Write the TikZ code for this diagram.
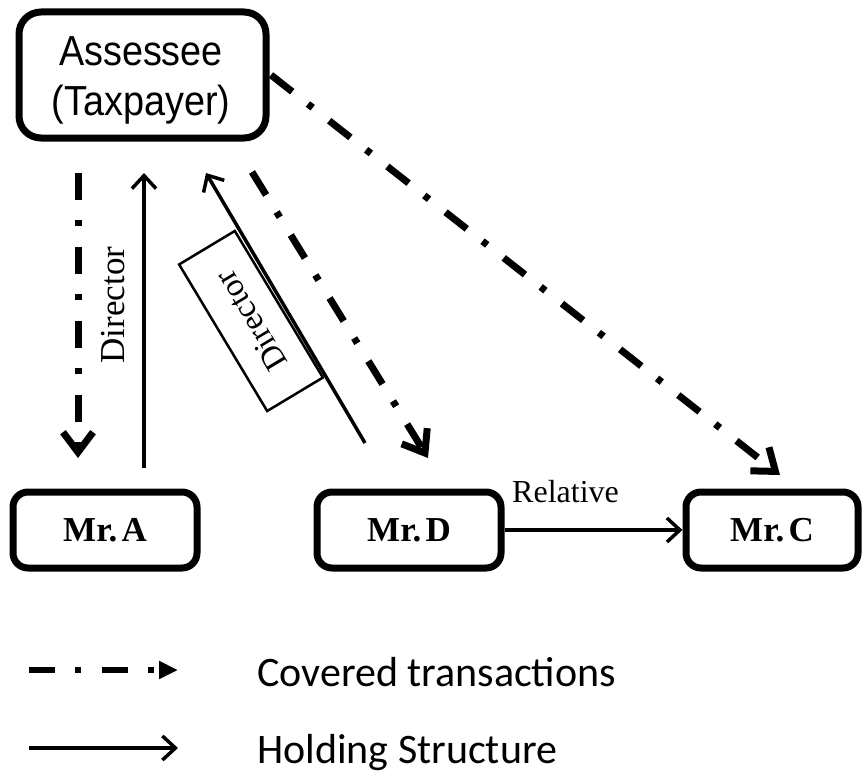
\documentclass[tikz,border=0pt]{standalone}
\usepackage{fontspec}
\setmainfont{Liberation Serif}
\newfontfamily\assfont[FakeStretch=0.9]{Liberation Sans}
\newfontfamily\legfont{Carlito}
\usetikzlibrary{arrows.meta}
\begin{document}
\begin{tikzpicture}[x=1pt,y=-1pt,
  person/.style={draw, line width=7pt, rounded corners=15pt, minimum width=184pt, minimum height=76pt, inner sep=0pt, font=\fontsize{35}{40}\selectfont\bfseries},
  covered/.style={line width=7pt, dash pattern=on 27pt off 20pt on 6pt off 21pt, -{Straight Barb[length=20pt,width=30pt]}},
  holding/.style={line width=3.5pt, -{Straight Barb[length=13pt,width=24pt]}},
  lbl/.style={font=\fontsize{33}{38}\selectfont},
  legtext/.style={font=\legfont\fontsize{42}{48}\selectfont, anchor=base west, inner sep=0pt},
]
\useasboundingbox (0,0) rectangle (867,776);

% boxes
\node[draw, line width=7pt, rounded corners=22pt, minimum width=247pt, minimum height=126pt, inner sep=0pt] (assessee) at (142.5,75) {};
\node[font=\assfont\fontsize{42}{50}\selectfont, align=center, inner sep=0pt] (assesseetext) at (141,80) {Assessee\\(Taxpayer)};
\node[person] (mrA) at (105,530) {Mr.\hspace{0.12em}A};
\node[person] (mrD) at (409,530) {Mr.\hspace{0.12em}D};
\node[person, minimum width=172pt] (mrC) at (772,530) {Mr.\hspace{0.12em}C};

% end points
\coordinate (cAs) at (78,173);
\coordinate (cAe) at (78,458);
\coordinate (hAs) at (144,468);
\coordinate (hAe) at (144,173);
\coordinate (hDs) at (365,443);
\coordinate (hDe) at (206,173);
\coordinate (cDs) at (252,172);
\coordinate (cDe) at (428,458);
\coordinate (cCs) at (271,75);
\coordinate (cCe) at (780,475);

% connectors
\draw[covered] (cAs) -- (cAe);
\draw[holding] (hAs) -- (hAe);
\node[lbl, rotate=90, font=\fontsize{35}{40}\selectfont] (dirA) at (113,305) {Director};
\node[lbl, draw, line width=2.5pt, rotate=121, minimum width=171pt, minimum height=65pt, inner sep=0pt] (dirD) at (251,321) {Director};
\draw[holding] (hDs) -- (hDe);
\draw[covered] (cDs) -- (cDe);
\draw[covered] (cCs) -- (cCe);
\draw[holding] (mrD) -- (mrC);
\node[lbl, anchor=base west, inner sep=0pt, font=\fontsize{32}{36}\selectfont] (rel) at (512,502) {Relative};

% legend
\coordinate (l1s) at (29,670);
\coordinate (l1e) at (178,670);
\coordinate (l2s) at (29,748);
\coordinate (l2e) at (178,748);
\draw[line width=6pt, dash pattern=on 26pt off 20pt on 6pt off 21pt, -{Triangle[length=19pt,width=17pt]}] (l1s) -- (l1e);
\draw[holding] (l2s) -- (l2e);
\node[legtext] (leg1) at (257,686) {Covered transactions};
\node[legtext] (leg2) at (257,763) {Holding Structure};
\end{tikzpicture}
\end{document}
